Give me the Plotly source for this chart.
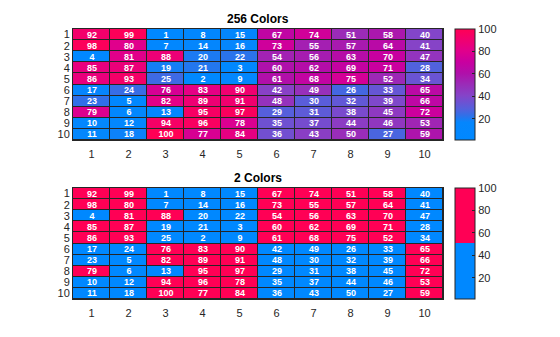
import plotly.graph_objects as go

rows = [1, 2, 3, 4, 5, 6, 7, 8, 9, 10]
cols = [1, 2, 3, 4, 5, 6, 7, 8, 9, 10]
values = [
    [92, 99, 1, 8, 15, 67, 74, 51, 58, 40],
    [98, 80, 7, 14, 16, 73, 55, 57, 64, 41],
    [4, 81, 88, 20, 22, 54, 56, 63, 70, 47],
    [85, 87, 19, 21, 3, 60, 62, 69, 71, 28],
    [86, 93, 25, 2, 9, 61, 68, 75, 52, 34],
    [17, 24, 76, 83, 90, 42, 49, 26, 33, 65],
    [23, 5, 82, 89, 91, 48, 30, 32, 39, 66],
    [79, 6, 13, 95, 97, 29, 31, 38, 45, 72],
    [10, 12, 94, 96, 78, 35, 37, 44, 46, 53],
    [11, 18, 100, 77, 84, 36, 43, 50, 27, 59],
]
titles = ["256 Colors", "2 Colors"]
cbar_ticks = [20, 40, 60, 80, 100]

scale256 = [
    [0.0, "#0088FF"], [0.16, "#0586FD"], [0.22, "#3070E8"], [0.28, "#5560DC"],
    [0.4, "#8544C8"], [0.5, "#9A2CB8"], [0.6, "#B010AA"], [0.7, "#C800A0"],
    [0.8, "#E0008C"], [0.9, "#F00070"], [1.0, "#FF0055"],
]
scale2 = [[0.0, "#0088FF"], [0.5, "#0088FF"], [0.5, "#FF0055"], [1.0, "#FF0055"]]

W, H = 560, 337
xl, xr = 73 / W, 443 / W
doms = [(1 - 140 / H, 1 - 29 / H), (1 - 299 / H, 1 - 188 / H)]
font = "Liberation Sans, Arial, Helvetica, sans-serif"

fig = go.Figure()
for i, (scale, dom) in enumerate(zip([scale256, scale2], doms)):
    sfx = "" if i == 0 else "2"
    fig.add_trace(go.Heatmap(
        z=values, x=cols, y=rows, zmin=1, zmax=100, colorscale=scale,
        xgap=1, ygap=1, text=values, texttemplate="<b>%{text}</b>",
        textfont=dict(color="white", size=9, family=font),
        xaxis="x" + sfx, yaxis="y" + sfx, hoverinfo="skip",
        colorbar=dict(
            x=455 / W, xanchor="left", y=dom[1], yanchor="top",
            len=dom[1] - dom[0], lenmode="fraction", thickness=20,
            thicknessmode="pixels", outlinecolor="#262626", outlinewidth=1,
            tickvals=cbar_ticks, ticks="inside", ticklen=3, tickcolor="#262626",
            tickfont=dict(size=11, color="#262626", family=font),
            xpad=0, ypad=0,
        ),
    ))
    fig.add_annotation(
        text="<b>" + titles[i] + "</b>", x=(xl + xr) / 2, y=dom[1],
        xref="paper", yref="paper", xanchor="center", yanchor="bottom",
        yshift=1, showarrow=False, font=dict(size=12, color="#000", family=font),
    )

axis_common = dict(
    showgrid=False, zeroline=False, showline=True, linecolor="#262626",
    linewidth=1, mirror=True, tickfont=dict(size=11, color="#262626", family=font),
    ticks="", tickmode="array", tickvals=cols,
)
fig.update_layout(
    width=W, height=H, margin=dict(l=0, r=0, t=0, b=0),
    paper_bgcolor="white", plot_bgcolor="#262626",
    xaxis=dict(domain=[xl, xr], anchor="y", range=[0.5, 10.5],
               ticklabelstandoff=4, **axis_common),
    yaxis=dict(domain=list(doms[0]), anchor="x", range=[10.5, 0.5], **axis_common),
    xaxis2=dict(domain=[xl, xr], anchor="y2", range=[0.5, 10.5],
                ticklabelstandoff=4, **axis_common),
    yaxis2=dict(domain=list(doms[1]), anchor="x2", range=[10.5, 0.5], **axis_common),
)
fig.write_html("out.html")
